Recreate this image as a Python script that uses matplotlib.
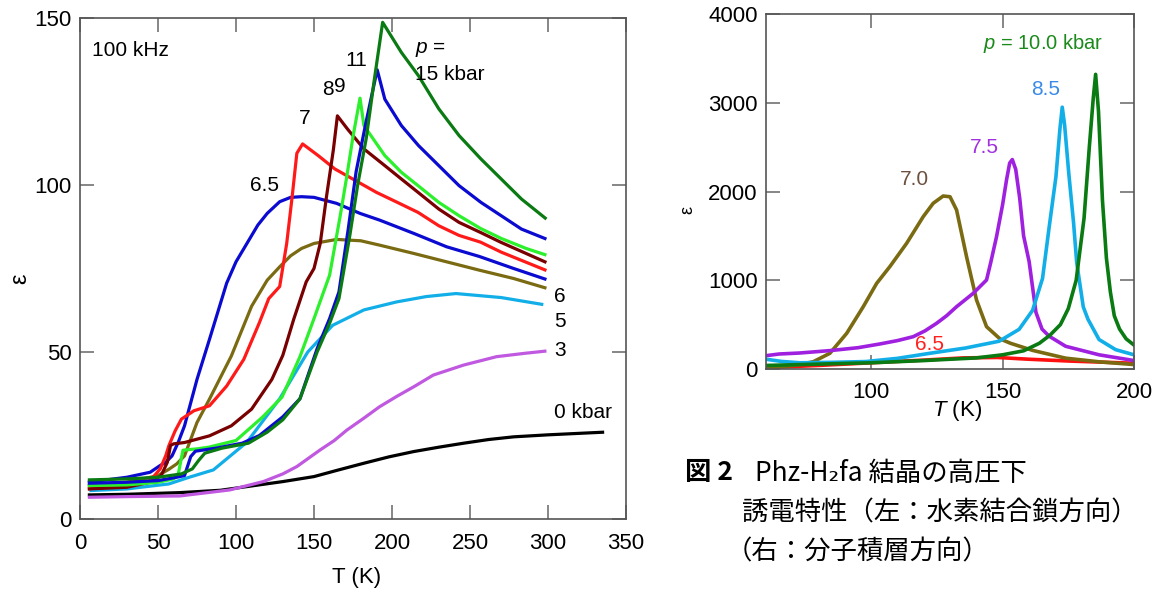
import numpy as np
import matplotlib
matplotlib.use("Agg")
import matplotlib.pyplot as plt

plt.rcParams['font.family'] = ['Liberation Sans', 'DejaVu Sans']
plt.rcParams['mathtext.fontset'] = 'custom'
plt.rcParams['mathtext.it'] = 'Liberation Sans:italic'
plt.rcParams['mathtext.rm'] = 'Liberation Sans'

# ---- left panel: 100 kHz, hydrogen-bond chain direction ----
T_0 = [5, 30, 64, 90, 107, 130, 150, 165, 182, 198, 214, 230, 246, 262, 278, 300, 336]
e_0 = [7.2, 7.4, 7.9, 8.6, 9.7, 11.2, 12.7, 14.6, 16.7, 18.6, 20.2, 21.5, 22.7, 23.8, 24.6, 25.2, 26.0]

T_3 = [5, 30, 64, 96, 117.5, 130, 139, 154, 163, 171, 182, 192, 203, 214, 226.5, 246, 267, 285, 299]
e_3 = [6.5, 6.7, 6.9, 8.7, 11.2, 13.5, 15.7, 20.7, 23.5, 26.6, 30.2, 33.6, 36.7, 39.6, 43.1, 46.1, 48.6, 49.6, 50.3]

T_5 = [6, 30, 57, 70, 85.5, 107, 128, 146, 162, 182, 203, 222, 241, 270, 297]
e_5 = [8.5, 9.0, 10.5, 12.5, 14.7, 23.0, 36.0, 50.0, 58.0, 62.6, 65.0, 66.6, 67.5, 66.3, 64.2]

T_6 = [5, 30, 50, 57, 62, 67, 75, 83, 97, 110, 120, 128, 135, 142, 150, 164.5, 180, 192, 214, 235, 256, 278, 299]
e_6 = [10, 11, 13, 14.9, 16.5, 18.9, 28.9, 35.9, 48.8, 63.7, 71.5, 75.5, 78.8, 81, 82.5, 83.7, 83.3, 82, 79.5, 77, 74.5, 72, 69.1]

T_65 = [5, 30, 45, 51, 55, 59, 63, 67, 75, 83, 94, 100, 107, 114, 120, 128, 135, 142, 150, 164.5, 179.5, 192, 214, 235, 256, 278, 299]
e_65 = [11, 12.5, 14, 15.9, 17, 18.9, 23, 27.9, 41.8, 53.8, 70.6, 77, 82.5, 88, 91.5, 95, 96.3, 96.5, 96.3, 94.5, 91.5, 89.5, 85.5, 81.5, 78.6, 75, 71.7]

T_7 = [5, 30, 45, 51.4, 55, 57, 61, 65, 73, 83, 94, 105, 115, 121, 128, 132.5, 136, 139, 142.7, 152.7, 163.4, 176.7, 190, 203.4, 216.7, 230, 243, 256.7, 270, 299]
e_7 = [9, 10, 11.5, 15, 19, 22, 26.4, 29.9, 32.4, 33.9, 39.8, 47.8, 58.8, 66, 69.6, 82.5, 96.5, 109.5, 112.3, 108.8, 104.8, 101.3, 97.8, 94.8, 91.8, 87.8, 84.9, 82.9, 79.9, 74.4]

T_8 = [5, 30, 45, 52, 56, 58, 60, 67, 83, 97, 110, 123, 130, 137, 145, 150, 154, 158, 162.4, 165, 171.4, 182, 195.4, 206, 216.7, 230, 243, 256.7, 270, 299]
e_8 = [9, 9.5, 11, 13, 17, 22, 22.5, 22.9, 24.9, 27.9, 32.9, 41.8, 49, 59.8, 71, 75, 82.5, 96.5, 110.5, 120.7, 116.8, 110.8, 105.8, 101.8, 97.8, 92.8, 88.8, 85.8, 82.8, 76.8]

T_9 = [5, 30, 50, 60, 63, 66, 75, 82.5, 100, 117, 129.5, 141, 150, 160, 166.7, 171, 175, 179.5, 182, 195.4, 206, 216.7, 230, 243, 256.7, 270, 286, 299]
e_9 = [10, 10.2, 11, 12, 13.5, 20.6, 21, 21.5, 23.5, 30.5, 36.5, 48.6, 60, 73, 90.5, 102.5, 114.5, 126, 117.8, 108.8, 103.8, 99.8, 94.8, 90.8, 87, 84, 81, 79]

T_11 = [5, 30, 50, 62, 67, 71, 74, 87, 104, 115, 130, 141, 152, 160, 166, 172, 177, 183, 190.5, 195.4, 206, 217, 230, 243, 257, 270, 283, 299]
e_11 = [10.7, 11, 11.5, 12.5, 13, 18.7, 20.3, 21.2, 22.7, 25, 30.6, 36, 51, 60, 68, 87, 104, 118, 134.5, 125.7, 117.8, 111.8, 105.8, 99.8, 94.8, 90.8, 86.8, 83.8]

T_15 = [5, 30, 50, 65, 72, 76, 80, 91, 108, 120, 130, 141, 152, 160, 166, 173, 178, 183.5, 188.5, 194, 206, 217, 230, 243, 257, 270, 283, 299]
e_15 = [11.7, 12, 12.5, 13.5, 15, 17.5, 19.7, 21.2, 22.7, 26, 29.7, 36, 50, 58.6, 66, 85, 100, 114, 131, 148.7, 139.7, 132.7, 122.8, 114.8, 107.8, 101.8, 95.8, 89.8]

left_series = [
    (T_0, e_0, 'black'),
    (T_3, e_3, '#c058e0'),
    (T_5, e_5, '#12aee8'),
    (T_6, e_6, '#7a6a12'),
    (T_65, e_65, '#0a0ad0'),
    (T_7, e_7, '#ff1a1a'),
    (T_8, e_8, '#780000'),
    (T_9, e_9, '#2cf02c'),
    (T_11, e_11, '#0a0ad0'),
    (T_15, e_15, '#0a7a12'),
]

# ---- right panel: molecular stacking direction ----
R_T65 = [60, 80, 100, 120, 135, 148, 160, 175, 190, 200]
R_e65 = [15, 40, 70, 100, 125, 130, 110, 90, 75, 65]

R_T70 = [60, 65.3, 72, 78, 84.3, 90.7, 97, 102.1, 107.1, 113.5, 119.8, 123.6, 127.4, 130, 132.5, 136.3, 140.1, 143.9, 149, 153, 161.4, 174, 187, 200]
R_e70 = [15, 26, 45, 82, 177, 402, 702, 965, 1153, 1416, 1716, 1867, 1949, 1941, 1792, 1265, 777, 477, 340, 290, 210, 122, 80, 50]

R_T75 = [60, 65, 72.7, 84.3, 95, 103.3, 110, 116, 120.5, 124.9, 128.7, 132.5, 138.8, 143.9, 145.5, 147.7, 150, 151.5, 152.7, 153.7, 155, 156.5, 158, 160.1, 162.7, 165, 167.7, 174, 186.7, 200]
R_e75 = [150, 169, 180, 207, 240, 282, 320, 364, 430, 515, 600, 702, 852, 1003, 1200, 1491, 1850, 2130, 2320, 2360, 2250, 1929, 1500, 1211, 638, 450, 370, 256, 160, 95]

R_T85 = [60, 66, 73, 85, 98, 110, 123, 136, 148.7, 156.3, 161.4, 165.2, 167.7, 170.3, 171.8, 172.7, 173.6, 175.2, 177, 178.2, 180.7, 182.5, 186.7, 193, 200]
R_e85 = [110, 85, 70, 75, 84, 120, 180, 237, 313, 447, 660, 1020, 1593, 2166, 2700, 2950, 2750, 2200, 1650, 1200, 700, 560, 332, 218, 160]

R_T100 = [60, 80, 100, 120, 140, 150, 158, 164, 168, 172, 175, 178, 181, 183, 184.5, 185.4, 186.5, 188, 189.5, 191, 192.5, 194.5, 197, 200]
R_e100 = [40, 55, 70, 95, 125, 160, 205, 290, 380, 500, 680, 1000, 1700, 2500, 3050, 3320, 2900, 1900, 1250, 870, 600, 450, 340, 270]

right_series = [
    (R_T65, R_e65, '#ff1010'),
    (R_T70, R_e70, '#7a6a12'),
    (R_T75, R_e75, '#a020e0'),
    (R_T85, R_e85, '#12aee8'),
    (R_T100, R_e100, '#0a7a12'),
]

W, H = 1160, 589
fig = plt.figure(figsize=(W / 100, H / 100), dpi=100)

def frame(ax, xpad):
    ax.tick_params(direction='in', length=10, width=1.1, top=True, right=True,
                   colors='#666666', labelcolor='black', labelsize=16, pad=6)
    ax.tick_params(axis='x', pad=xpad)
    for s in ax.spines.values():
        s.set_color('#555555')
        s.set_linewidth(1.2)

# left
ax1 = fig.add_axes([80 / W, 1 - 519 / H, (626 - 80) / W, (519 - 18) / H])
for T, e, c in left_series:
    ax1.plot(T, e, color=c, lw=2.3, solid_capstyle='butt', solid_joinstyle='round')
ax1.set_xlim(0, 350)
ax1.set_ylim(0, 150)
ax1.set_xticks(range(0, 351, 50))
ax1.set_yticks([0, 50, 100, 150])
frame(ax1, 10)
ax1.set_xlabel('T (K)', fontsize=16, va='center')
ax1.xaxis.set_label_coords(0.507, -0.116)
ax1.set_ylabel('ε', fontsize=17, va='center')
ax1.yaxis.set_label_coords(-0.11, 0.48)

lab = dict(fontsize=15, color='black', ha='left', va='center')
ax1.text(7.5, 140.2, '100 kHz', **lab)
ax1.text(215, 140.7, r'$\it{p}$ =', **lab)
ax1.text(215, 133.2, '15 kbar', **lab)
ax1.text(170, 137.2, '11', **lab)
ax1.text(155, 128.7, '8', **lab)
ax1.text(163, 129.5, '9', **lab)
ax1.text(140, 119.8, '7', **lab)
ax1.text(109, 99.8, '6.5', **lab)
ax1.text(304, 66.7, '6', **lab)
ax1.text(304, 59, '5', **lab)
ax1.text(304, 50.3, '3', **lab)
ax1.text(304, 31.9, '0 kbar', **lab)

# right
ax2 = fig.add_axes([766 / W, 1 - 369 / H, (1134 - 766) / W, (369 - 14) / H])
for T, e, c in right_series:
    ax2.plot(T, e, color=c, lw=2.6, solid_joinstyle='round')
ax2.set_xlim(60, 200)
ax2.set_ylim(0, 4000)
ax2.set_xticks([100, 150, 200])
ax2.set_yticks(range(0, 4001, 1000))
frame(ax2, 9)
ax2.set_xlabel(r'$\it{T}$ (K)', fontsize=16, va='center')
ax2.xaxis.set_label_coords(0.52, -0.118)
ax2.set_ylabel('ε', fontsize=13, va='center')
ax2.yaxis.set_label_coords(-0.212, 0.448)

ax2.text(142.5, 3670, r'$\it{p}$ = 10.0 kbar', fontsize=14.5, color='#1a8a1a', ha='left', va='center')
ax2.text(161, 3146, '8.5', fontsize=15, color='#3a8ae8', ha='left', va='center')
ax2.text(137.6, 2498, '7.5', fontsize=15, color='#a030e0', ha='left', va='center')
ax2.text(111, 2135, '7.0', fontsize=15, color='#6b5040', ha='left', va='center')
ax2.text(116.7, 281, '6.5', fontsize=15, color='#ff2020', ha='left', va='center')

# caption
cjk = ['Noto Sans CJK JP', 'DejaVu Sans']
fig.text(685 / W, 1 - 473 / H, '図 2', family=cjk, fontsize=19, fontweight='bold', ha='left', va='center')
fig.text(755 / W, 1 - 473 / H, 'Phz-H₂fa 結晶の高圧下', family=cjk, fontsize=19, ha='left', va='center')
fig.text(742 / W, 1 - 513 / H, '誘電特性（左：水素結合鎖方向）', family=cjk, fontsize=19, ha='left', va='center')
fig.text(726 / W, 1 - 552 / H, '（右：分子積層方向）', family=cjk, fontsize=19, ha='left', va='center')

fig.savefig('out.png', dpi=100)
